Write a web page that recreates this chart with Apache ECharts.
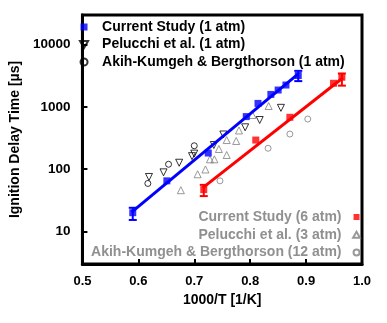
<!DOCTYPE html>
<html>
<head>
    <meta charset="utf-8">
    <title>Ignition delay time</title>
    <script src="https://cdn.jsdelivr.net/npm/echarts@6/dist/echarts.min.js"></script>
    <style>
        html, body { margin: 0; padding: 0; background: #fff; }
        #chart { width: 387px; height: 323px; }
    </style>
</head>
<body>
<div id="chart"></div>
<script type="text/javascript">

    // 1000/T [1/K] and ignition delay [us]
    var cs1X = [0.590, 0.651, 0.725, 0.793, 0.814, 0.837, 0.850, 0.864, 0.886];
    var cs1Y = [20, 65, 182, 700, 1140, 1590, 1870, 2250, 3200];
    var cs6X = [0.717, 0.810, 0.871, 0.949, 0.964];
    var cs6Y = [47, 294, 682, 2400, 3000];

    var pel1X = [0.619, 0.645, 0.673, 0.696, 0.700, 0.735, 0.752, 0.791, 0.817, 0.855];
    var pel1Y = [75, 89, 127, 162, 178, 245, 361, 471, 617, 968];
    var pel3X = [0.676, 0.706, 0.720, 0.728, 0.736, 0.744, 0.758, 0.758, 0.775, 0.780, 0.804, 0.833];
    var pel3Y = [46, 83, 99, 144, 144, 211, 169, 294, 284, 419, 743, 1035];

    var akh1X = [0.617, 0.654, 0.700];
    var akh1Y = [59, 120, 238];
    var akh12X = [0.746, 0.832, 0.871, 0.903];
    var akh12Y = [65, 217, 367, 640];

    // error bars: [x, low, high]
    var cs1Err = [[0.590, 15.3, 24], [0.886, 2600, 3800]];
    var cs6Err = [[0.717, 37, 56], [0.964, 2200, 3450]];

    // Arrhenius fits (end points)
    var cs1Fit = [[0.588, 20.5], [0.886, 3400]];
    var cs6Fit = [[0.715, 50], [0.966, 2950]];

    var FONT = 'Liberation Sans, Arial, sans-serif';
    var GRAY = '#808080';

    // legend icons (paths keep their aspect, built-in symbols get stretched)
    var ICON_SQ = 'path://M0,0L10,0L10,10L0,10Z';
    var ICON_DOWN = 'path://M0,0L10,0L5,8.66Z';
    var ICON_UP = 'path://M5,0L10,8.66L0,8.66Z';
    var ICON_CIRC = 'path://M10,5A5,5,0,1,1,0,5A5,5,0,1,1,10,5Z';

    function pairs(xs, ys) {
        return xs.map(function (x, i) { return [x, ys[i]]; });
    }

    function errBar(color) {
        return function (params, api) {
            var top = api.coord([api.value(0), api.value(2)]);
            var bot = api.coord([api.value(0), api.value(1)]);
            var w = 4;
            var st = { stroke: color, lineWidth: 2 };
            return {
                type: 'group',
                children: [
                    { type: 'line', shape: { x1: top[0], y1: top[1], x2: bot[0], y2: bot[1] }, style: st },
                    { type: 'line', shape: { x1: top[0] - w, y1: top[1], x2: top[0] + w, y2: top[1] }, style: st },
                    { type: 'line', shape: { x1: bot[0] - w, y1: bot[1], x2: bot[0] + w, y2: bot[1] }, style: st }
                ]
            };
        };
    }

    var myChart = echarts.init(document.getElementById('chart'));

    myChart.setOption({
        animation: false,
        backgroundColor: '#fff',
        grid: {
            left: 75, right: 25, top: 15, bottom: 59,
            show: true, borderColor: '#000', borderWidth: 3
        },
        legend: [
            {
                orient: 'vertical',
                left: 79, top: 20,
                padding: 0,
                itemWidth: 26, itemHeight: 7, itemGap: 3.5,
                selectedMode: false,
                textStyle: { fontFamily: FONT, fontWeight: 'bold', fontSize: 14, color: '#000' },
                data: [
                    { name: 'Current Study (1 atm)', icon: ICON_SQ },
                    { name: 'Pelucchi et al. (1 atm)', icon: ICON_DOWN },
                    { name: 'Akih-Kumgeh & Bergthorson (1 atm)', icon: ICON_CIRC }
                ]
            },
            {
                orient: 'vertical',
                right: 26, top: 210,
                padding: 0,
                align: 'right',
                itemWidth: 20, itemHeight: 6, itemGap: 3.7,
                selectedMode: false,
                textStyle: { fontFamily: FONT, fontWeight: 'bold', fontSize: 14, color: '#909090' },
                data: [
                    { name: 'Current Study (6 atm)', icon: ICON_SQ },
                    { name: 'Pelucchi et al. (3 atm)', icon: ICON_UP },
                    { name: 'Akih-Kumgeh & Bergthorson (12 atm)', icon: ICON_CIRC }
                ]
            }
        ],
        xAxis: {
            type: 'value',
            min: 0.5, max: 1.0, interval: 0.1,
            name: '1000/T [1/K]',
            nameLocation: 'middle',
            nameGap: 27,
            nameTextStyle: { fontFamily: FONT, fontWeight: 'bold', fontSize: 14, color: '#000' },
            axisLine: { show: true, lineStyle: { color: '#000', width: 3 } },
            axisTick: { show: true, inside: true, length: 5, lineStyle: { color: '#000', width: 2 } },
            axisLabel: {
                margin: 11,
                fontFamily: FONT, fontWeight: 'bold', fontSize: 13, color: '#000',
                formatter: function (v) { return v.toFixed(1); }
            },
            splitLine: { show: false }
        },
        yAxis: {
            type: 'log',
            logBase: 10,
            min: 3, max: 30000,
            name: 'Ignition Delay Time [µs]',
            nameLocation: 'middle',
            nameGap: 53,
            nameTextStyle: { fontFamily: FONT, fontWeight: 'bold', fontSize: 14, color: '#000' },
            axisLine: { show: true, lineStyle: { color: '#000', width: 3 } },
            axisTick: { show: true, inside: true, length: 5, lineStyle: { color: '#000', width: 2 } },
            axisLabel: {
                margin: 12,
                showMinLabel: false, showMaxLabel: false,
                fontFamily: FONT, fontWeight: 'bold', fontSize: 13.5, color: '#000',
                formatter: function (v) { return String(Math.round(v)); }
            },
            splitLine: { show: false }
        },
        series: [
            {
                type: 'line', data: cs1Fit, symbol: 'none', silent: true,
                lineStyle: { color: '#0000ff', width: 3 }
            },
            {
                type: 'line', data: cs6Fit, symbol: 'none', silent: true,
                lineStyle: { color: '#ff0000', width: 3 }
            },
            {
                name: 'Pelucchi et al. (3 atm)',
                type: 'scatter', data: pairs(pel3X, pel3Y),
                symbol: 'triangle', symbolSize: 7,
                itemStyle: { color: 'rgba(255,255,255,0)', borderColor: GRAY, borderWidth: 1 }
            },
            {
                name: 'Akih-Kumgeh & Bergthorson (12 atm)',
                type: 'scatter', data: pairs(akh12X, akh12Y),
                symbol: 'circle', symbolSize: 6,
                itemStyle: { color: 'rgba(255,255,255,0)', borderColor: GRAY, borderWidth: 1 }
            },
            {
                name: 'Pelucchi et al. (1 atm)',
                type: 'scatter', data: pairs(pel1X, pel1Y),
                symbol: 'triangle', symbolRotate: 180, symbolSize: 7,
                itemStyle: { color: 'rgba(255,255,255,0)', borderColor: '#000', borderWidth: 1 }
            },
            {
                name: 'Akih-Kumgeh & Bergthorson (1 atm)',
                type: 'scatter', data: pairs(akh1X, akh1Y),
                symbol: 'circle', symbolSize: 6,
                itemStyle: { color: 'rgba(255,255,255,0)', borderColor: '#000', borderWidth: 1 }
            },
            {
                type: 'custom', data: cs1Err, silent: true,
                renderItem: errBar('#0000ff')
            },
            {
                type: 'custom', data: cs6Err, silent: true,
                renderItem: errBar('#ff0000')
            },
            {
                name: 'Current Study (1 atm)',
                type: 'scatter', data: pairs(cs1X, cs1Y),
                symbol: 'rect', symbolSize: 7,
                itemStyle: { color: '#0000ff' }
            },
            {
                name: 'Current Study (6 atm)',
                type: 'scatter', data: pairs(cs6X, cs6Y),
                symbol: 'rect', symbolSize: 7,
                itemStyle: { color: '#ff0000' }
            }
        ]
    });

</script>
</body>
</html>
